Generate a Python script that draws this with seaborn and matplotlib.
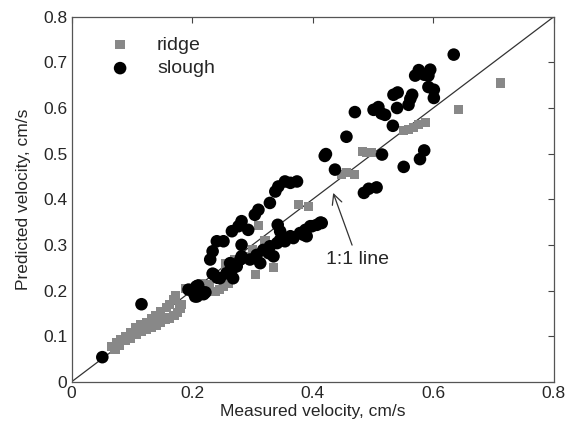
import matplotlib
matplotlib.use("Agg")
import matplotlib.pyplot as plt
import numpy as np
import pandas as pd
import seaborn as sns

# ridge sites (grey squares): measured vs predicted velocity, cm/s
ridge_x = [0.066, 0.074, 0.082, 0.090, 0.098, 0.107, 0.115, 0.124, 0.132, 0.140,
           0.148, 0.157, 0.163, 0.169, 0.172,
           0.072, 0.080, 0.089, 0.098, 0.107, 0.116, 0.124, 0.132, 0.140, 0.147,
           0.155, 0.163, 0.170, 0.176, 0.180, 0.182,
           0.190, 0.200, 0.210, 0.216, 0.224, 0.238, 0.246, 0.252, 0.260, 0.228,
           0.255, 0.270, 0.285, 0.300, 0.305, 0.335, 0.310, 0.321, 0.376, 0.393,
           0.448, 0.456, 0.470, 0.482, 0.490, 0.498,
           0.551, 0.559, 0.567, 0.576, 0.587, 0.642, 0.711]
ridge_y = [0.078, 0.085, 0.092, 0.100, 0.108, 0.118, 0.125, 0.130, 0.138, 0.146,
           0.153, 0.162, 0.170, 0.180, 0.188,
           0.072, 0.080, 0.090, 0.096, 0.104, 0.110, 0.114, 0.120, 0.124, 0.130,
           0.136, 0.140, 0.146, 0.152, 0.160, 0.170,
           0.205, 0.195, 0.190, 0.216, 0.205, 0.198, 0.202, 0.209, 0.215, 0.212,
           0.258, 0.268, 0.275, 0.290, 0.235, 0.250, 0.342, 0.310, 0.388, 0.385,
           0.454, 0.458, 0.454, 0.505, 0.503, 0.503,
           0.551, 0.553, 0.558, 0.564, 0.568, 0.596, 0.655]

# slough sites (black circles)
slough_x = [0.051, 0.116, 0.194, 0.210, 0.208, 0.219, 0.222, 0.207, 0.215, 0.205,
            0.234, 0.242, 0.230, 0.234, 0.241, 0.252, 0.266, 0.277, 0.282, 0.293,
            0.282, 0.304, 0.310, 0.329, 0.338, 0.343, 0.354, 0.363, 0.374, 0.342,
            0.346,
            0.236, 0.246, 0.257, 0.266, 0.268, 0.263, 0.274, 0.280, 0.282, 0.296,
            0.307, 0.313, 0.318, 0.327, 0.335, 0.329, 0.341, 0.346, 0.354, 0.363,
            0.368, 0.379, 0.388, 0.385, 0.396, 0.399, 0.407, 0.413, 0.415, 0.390,
            0.485, 0.493, 0.506,
            0.420, 0.422, 0.437, 0.456, 0.470, 0.501, 0.509, 0.514, 0.520, 0.533,
            0.534, 0.541, 0.540, 0.559, 0.562, 0.565, 0.515, 0.551, 0.578, 0.585,
            0.570, 0.576, 0.585, 0.595, 0.592, 0.592, 0.601, 0.601, 0.634]
slough_y = [0.054, 0.170, 0.202, 0.211, 0.187, 0.192, 0.196, 0.209, 0.198, 0.187,
            0.237, 0.228, 0.268, 0.286, 0.308, 0.308, 0.330, 0.341, 0.352, 0.333,
            0.300, 0.366, 0.377, 0.392, 0.417, 0.428, 0.439, 0.436, 0.439, 0.344,
            0.330,
            0.235, 0.227, 0.238, 0.246, 0.227, 0.260, 0.253, 0.268, 0.275, 0.268,
            0.278, 0.260, 0.289, 0.282, 0.275, 0.297, 0.304, 0.311, 0.308, 0.319,
            0.315, 0.326, 0.333, 0.322, 0.341, 0.341, 0.344, 0.349, 0.348, 0.319,
            0.414, 0.423, 0.426,
            0.495, 0.499, 0.465, 0.537, 0.591, 0.596, 0.602, 0.588, 0.585, 0.561,
            0.629, 0.634, 0.600, 0.607, 0.620, 0.629, 0.498, 0.471, 0.488, 0.507,
            0.671, 0.683, 0.673, 0.684, 0.671, 0.646, 0.640, 0.622, 0.717]

ridge = pd.DataFrame({"measured": ridge_x, "predicted": ridge_y})
slough = pd.DataFrame({"measured": slough_x, "predicted": slough_y})

sns.set_style("white")
plt.rcParams["font.family"] = ["Liberation Sans", "DejaVu Sans"]

fig = plt.figure(figsize=(5.68, 4.29), dpi=100)
ax = fig.add_axes([0.126, 0.110, 0.849, 0.851])

ax.plot([0, 0.8], [0, 0.8], color="#333333", linewidth=0.9, zorder=1)

sns.scatterplot(data=ridge, x="measured", y="predicted", ax=ax,
                marker="s", s=44, color="#888888", edgecolor="none",
                label="ridge", zorder=2)
sns.scatterplot(data=slough, x="measured", y="predicted", ax=ax,
                marker="o", s=82, color="black", edgecolor="none",
                label="slough", zorder=3)

ax.annotate("1:1 line", xy=(0.434, 0.414), xytext=(0.474, 0.268),
            ha="center", va="center", fontsize=14,
            arrowprops=dict(arrowstyle="->", color="#333333", lw=0.9,
                            mutation_scale=18, shrinkA=2, shrinkB=0))

ax.set_xlim(0, 0.8)
ax.set_ylim(0, 0.8)
ax.set_xticks([0, 0.2, 0.4, 0.6, 0.8])
ax.set_yticks([0, 0.1, 0.2, 0.3, 0.4, 0.5, 0.6, 0.7, 0.8])
ax.set_xticklabels(["0", "0.2", "0.4", "0.6", "0.8"])
ax.set_yticklabels(["0", "0.1", "0.2", "0.3", "0.4", "0.5", "0.6", "0.7", "0.8"])
ax.tick_params(direction="in", length=4, width=0.8, top=True, right=True,
               labelsize=12.5, color="#444444", pad=3)
for sp in ax.spines.values():
    sp.set_color("#555555")
    sp.set_linewidth(0.9)

ax.set_xlabel("Measured velocity, cm/s", fontsize=12.5, labelpad=2)
ax.set_ylabel("Predicted velocity, cm/s", fontsize=12.5, labelpad=9)

ax.legend(loc="upper left", frameon=False, fontsize=14, handletextpad=0.9,
          borderaxespad=0.6, bbox_to_anchor=(0.02, 1.0), labelspacing=0.3)

plt.savefig("out.png", dpi=100)
plt.close()
